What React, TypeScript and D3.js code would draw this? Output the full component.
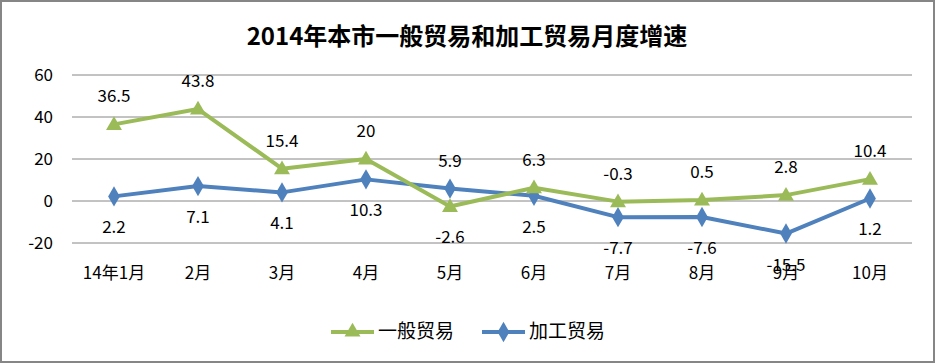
import { useEffect, useRef } from "react";
import * as d3 from "d3";

const MONTHS = ["14年1月", "2月", "3月", "4月", "5月", "6月", "7月", "8月", "9月", "10月"];
const GENERAL = [36.5, 43.8, 15.4, 20, -2.6, 6.3, -0.3, 0.5, 2.8, 10.4];
const PROCESSING = [2.2, 7.1, 4.1, 10.3, 5.9, 2.5, -7.7, -7.6, -15.5, 1.2];
// label above (true) or below (false) the point
const GENERAL_ABOVE = [true, true, true, true, false, true, true, true, true, true];
const PROCESSING_ABOVE = [false, false, false, false, true, false, false, false, false, false];
const Y_TICKS = [-20, 0, 20, 40, 60];

const GREEN = "#9bbb59";
const BLUE = "#4f81bd";
const FONT = "'Liberation Sans Narrow', 'Noto Sans CJK SC', sans-serif";
const W = 935;
const H = 363;

export default function App() {
  const svgRef = useRef<SVGSVGElement>(null);

  useEffect(() => {
    const svg = d3.select(svgRef.current);
    svg.selectAll("*").remove();

    const x = d3.scaleBand().domain(MONTHS).range([72, 912]);
    const y = d3.scaleLinear().domain([-20, 60]).range([243, 75]);
    const cx = (i: number) => (x(MONTHS[i]) ?? 0) + x.bandwidth() / 2;

    // frame
    svg.append("rect")
      .attr("x", 1).attr("y", 1).attr("width", W - 2).attr("height", H - 2)
      .attr("fill", "#fff").attr("stroke", "#868686").attr("stroke-width", 2);

    // title
    svg.append("text")
      .attr("x", 467).attr("y", 45).attr("text-anchor", "middle")
      .attr("font-family", FONT).attr("font-size", "24px").attr("font-weight", "bold")
      .attr("fill", "#000").text("2014年本市一般贸易和加工贸易月度增速");

    // grid + y labels
    for (const t of Y_TICKS) {
      svg.append("line")
        .attr("x1", 72).attr("x2", 912).attr("y1", y(t)).attr("y2", y(t))
        .attr("stroke", "#868686").attr("stroke-width", 1);
      svg.append("text")
        .attr("x", 53).attr("y", y(t) + 6).attr("text-anchor", "end")
        .attr("font-family", FONT).attr("font-size", "17px").attr("fill", "#000")
        .text(String(t));
    }

    // x labels
    MONTHS.forEach((m, i) => {
      svg.append("text")
        .attr("x", cx(i)).attr("y", 279).attr("text-anchor", "middle")
        .attr("font-family", FONT).attr("font-size", "17px").attr("fill", "#000")
        .text(m);
    });

    const line = d3.line<number>().x((_, i) => cx(i)).y((d) => y(d));

    const tri = d3.symbol().type(d3.symbolTriangle).size(110);
    const dia = d3.symbol().type(d3.symbolDiamond).size(120);

    const series = [
      { data: PROCESSING, above: PROCESSING_ABOVE, color: BLUE, sym: dia, dy: 0 },
      { data: GENERAL, above: GENERAL_ABOVE, color: GREEN, sym: tri, dy: 1 },
    ];

    for (const s of series) {
      svg.append("path").datum(s.data)
        .attr("d", line).attr("fill", "none")
        .attr("stroke", s.color).attr("stroke-width", 4).attr("stroke-linejoin", "round");
      s.data.forEach((v, i) => {
        svg.append("path")
          .attr("d", s.sym()!)
          .attr("transform", `translate(${cx(i)},${y(v) + s.dy})`)
          .attr("fill", s.color);
      });
    }

    for (const s of series) {
      s.data.forEach((v, i) => {
        svg.append("text")
          .attr("x", cx(i)).attr("y", s.above[i] ? y(v) - 22 : y(v) + 37)
          .attr("text-anchor", "middle")
          .attr("font-family", FONT).attr("font-size", "17px").attr("fill", "#000")
          .text(String(v));
      });
    }

    // legend
    const legend = [
      { label: "一般贸易", color: GREEN, sym: tri, x0: 331 },
      { label: "加工贸易", color: BLUE, sym: dia, x0: 482 },
    ];
    for (const l of legend) {
      svg.append("line")
        .attr("x1", l.x0).attr("x2", l.x0 + 43).attr("y1", 332).attr("y2", 332)
        .attr("stroke", l.color).attr("stroke-width", 4);
      svg.append("path").attr("d", l.sym()!)
        .attr("transform", `translate(${l.x0 + 21.5},332)`).attr("fill", l.color);
      svg.append("text")
        .attr("x", l.x0 + 47).attr("y", 338)
        .attr("font-family", FONT).attr("font-size", "19px").attr("fill", "#000")
        .text(l.label);
    }
  }, []);

  return (
    <div style={{ position: "fixed", left: 0, top: 0 }}>
      <svg ref={svgRef} width={W} height={H} style={{ display: "block" }} />
    </div>
  );
}
